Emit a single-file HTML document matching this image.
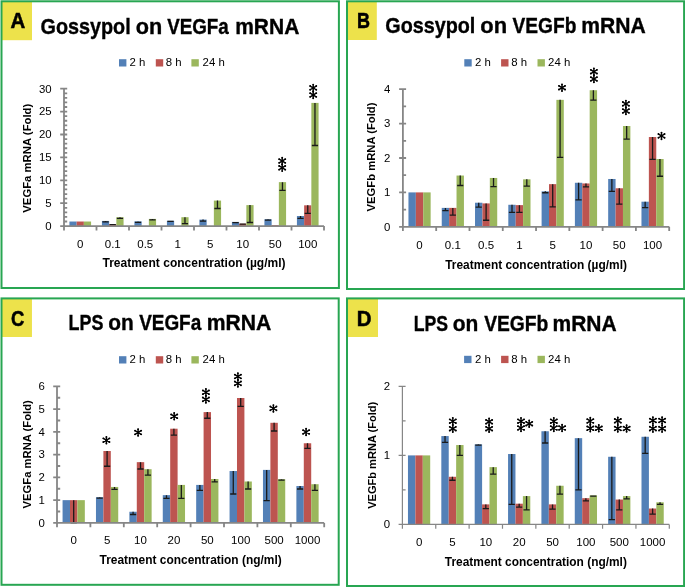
<!DOCTYPE html><html><head><meta charset="utf-8"><style>html,body{margin:0;padding:0;background:#fff;}svg{display:block;will-change:transform}</style></head><body>
<svg width="685" height="588" viewBox="0 0 685 588" font-family='"Liberation Sans", sans-serif'>
<rect width="685" height="588" fill="#fff"/>
<rect x="1.5" y="1.3" width="30.5" height="38.9" fill="#EDE24B"/>
<rect x="1.5" y="1.3" width="337.4" height="286.7" fill="none" stroke="#28A652" stroke-width="2"/>
<text transform="translate(18 28.4) scale(0.92 1)" font-size="22.2" font-weight="bold" text-anchor="middle" stroke="#000" stroke-width="0.55">A</text>
<text x="40.53" y="33.6" font-size="21.2" font-weight="bold" stroke="#000" stroke-width="0.35" textLength="90.11" lengthAdjust="spacingAndGlyphs">Gossypol</text>
<text x="135.81" y="33.6" font-size="21.2" font-weight="bold" stroke="#000" stroke-width="0.35" textLength="26.48" lengthAdjust="spacingAndGlyphs">on</text>
<text x="167.22" y="33.6" font-size="21.2" font-weight="bold" stroke="#000" stroke-width="0.35" textLength="61.58" lengthAdjust="spacingAndGlyphs">VEGFa</text>
<text x="235.22" y="33.6" font-size="21.2" font-weight="bold" stroke="#000" stroke-width="0.35" textLength="64.11" lengthAdjust="spacingAndGlyphs">mRNA</text>
<rect x="119" y="59.2" width="7.4" height="7.3" fill="#5380B7"/>
<text x="129.6" y="66.3" font-size="11.4">2 h</text>
<rect x="155.8" y="59.2" width="7.4" height="7.3" fill="#BD5450"/>
<text x="165.8" y="66.3" font-size="11.4">8 h</text>
<rect x="191.4" y="59.2" width="7.4" height="7.3" fill="#9BB75D"/>
<text x="202.6" y="66.3" font-size="11.4">24 h</text>
<rect x="69.42" y="221.52" width="7.22" height="4.58" fill="#5380B7"/>
<rect x="76.64" y="221.52" width="7.22" height="4.58" fill="#BD5450"/>
<rect x="83.86" y="221.52" width="7.22" height="4.58" fill="#9BB75D"/>
<rect x="101.92" y="220.92" width="7.22" height="5.18" fill="#5380B7"/>
<rect x="109.14" y="224.08" width="7.22" height="2.02" fill="#BD5450"/>
<rect x="116.36" y="217.21" width="7.22" height="8.89" fill="#9BB75D"/>
<rect x="134.42" y="221.38" width="7.22" height="4.72" fill="#5380B7"/>
<rect x="148.86" y="218.91" width="7.22" height="7.19" fill="#9BB75D"/>
<rect x="166.92" y="220.79" width="7.22" height="5.31" fill="#5380B7"/>
<rect x="181.36" y="217.21" width="7.22" height="8.89" fill="#9BB75D"/>
<rect x="199.42" y="219.6" width="7.22" height="6.5" fill="#5380B7"/>
<rect x="213.86" y="200.59" width="7.22" height="25.51" fill="#9BB75D"/>
<rect x="231.92" y="221.89" width="7.22" height="4.21" fill="#5380B7"/>
<rect x="239.14" y="223.72" width="7.22" height="2.38" fill="#BD5450"/>
<rect x="246.36" y="205.12" width="7.22" height="20.98" fill="#9BB75D"/>
<rect x="264.42" y="219.23" width="7.22" height="6.87" fill="#5380B7"/>
<rect x="271.64" y="225.18" width="7.22" height="0.92" fill="#BD5450"/>
<rect x="278.86" y="182.13" width="7.22" height="43.97" fill="#9BB75D"/>
<rect x="296.92" y="216.02" width="7.22" height="10.08" fill="#5380B7"/>
<rect x="304.14" y="205.31" width="7.22" height="20.79" fill="#BD5450"/>
<rect x="311.36" y="102.9" width="7.22" height="123.2" fill="#9BB75D"/>
<path d="M105.53 220.92V221.84M102.43 221.84H108.63" stroke="#1a1a1a" stroke-width="1.3" fill="none"/>
<path d="M112.75 224.08V224.54M109.65 224.54H115.85" stroke="#1a1a1a" stroke-width="1.3" fill="none"/>
<path d="M119.97 217.21V218.36M116.87 218.36H123.07" stroke="#1a1a1a" stroke-width="1.3" fill="none"/>
<path d="M138.03 221.38V222.3M134.93 222.3H141.13" stroke="#1a1a1a" stroke-width="1.3" fill="none"/>
<path d="M152.47 218.91V219.83M149.37 219.83H155.57" stroke="#1a1a1a" stroke-width="1.3" fill="none"/>
<path d="M170.53 220.79V221.47M167.43 221.47H173.63" stroke="#1a1a1a" stroke-width="1.3" fill="none"/>
<path d="M184.97 217.21V223.63M181.87 223.63H188.07" stroke="#1a1a1a" stroke-width="1.3" fill="none"/>
<path d="M203.03 219.6V221.2M199.93 221.2H206.13" stroke="#1a1a1a" stroke-width="1.3" fill="none"/>
<path d="M217.47 200.59V208.51M214.37 208.51H220.57" stroke="#1a1a1a" stroke-width="1.3" fill="none"/>
<path d="M235.53 221.89V222.57M232.43 222.57H238.63" stroke="#1a1a1a" stroke-width="1.3" fill="none"/>
<path d="M242.75 223.72V224.18M239.65 224.18H245.85" stroke="#1a1a1a" stroke-width="1.3" fill="none"/>
<path d="M249.97 205.12V222.48M246.87 222.48H253.07" stroke="#1a1a1a" stroke-width="1.3" fill="none"/>
<path d="M268.03 219.23V220.15M264.93 220.15H271.13" stroke="#1a1a1a" stroke-width="1.3" fill="none"/>
<path d="M282.47 182.13V190.38M279.37 190.38H285.57" stroke="#1a1a1a" stroke-width="1.3" fill="none"/>
<path d="M300.53 216.02V218.31M297.43 218.31H303.63" stroke="#1a1a1a" stroke-width="1.3" fill="none"/>
<path d="M307.75 205.31V213.28M304.65 213.28H310.85" stroke="#1a1a1a" stroke-width="1.3" fill="none"/>
<path d="M314.97 102.9V145.49M311.87 145.49H318.07" stroke="#1a1a1a" stroke-width="1.3" fill="none"/>
<path d="M64 88.7V226.1M60.2 226.1H324M60.2 226.1H67.2M64 221.52H67.2M64 216.94H67.2M64 212.36H67.2M64 207.78H67.2M60.2 203.2H67.2M64 198.62H67.2M64 194.04H67.2M64 189.46H67.2M64 184.88H67.2M60.2 180.3H67.2M64 175.72H67.2M64 171.14H67.2M64 166.56H67.2M64 161.98H67.2M60.2 157.4H67.2M64 152.82H67.2M64 148.24H67.2M64 143.66H67.2M64 139.08H67.2M60.2 134.5H67.2M64 129.92H67.2M64 125.34H67.2M64 120.76H67.2M64 116.18H67.2M60.2 111.6H67.2M64 107.02H67.2M64 102.44H67.2M64 97.86H67.2M64 93.28H67.2M60.2 88.7H67.2M64 226.1V230.4M96.5 226.1V230.4M129 226.1V230.4M161.5 226.1V230.4M194 226.1V230.4M226.5 226.1V230.4M259 226.1V230.4M291.5 226.1V230.4M324 226.1V230.4" stroke="#868686" stroke-width="1.8" fill="none"/>
<text x="51.6" y="229.9" font-size="11.4" text-anchor="end">0</text>
<text x="51.6" y="207" font-size="11.4" text-anchor="end">5</text>
<text x="51.6" y="184.1" font-size="11.4" text-anchor="end">10</text>
<text x="51.6" y="161.2" font-size="11.4" text-anchor="end">15</text>
<text x="51.6" y="138.3" font-size="11.4" text-anchor="end">20</text>
<text x="51.6" y="115.4" font-size="11.4" text-anchor="end">25</text>
<text x="51.6" y="92.5" font-size="11.4" text-anchor="end">30</text>
<text transform="translate(31.1 158.2) rotate(-90)" x="0" y="0" font-size="11.3" font-weight="bold" text-anchor="middle" textLength="109" lengthAdjust="spacingAndGlyphs">VEGFa mRNA (Fold)</text>
<text x="80.25" y="247.9" font-size="11.5" text-anchor="middle">0</text>
<text x="112.75" y="247.9" font-size="11.5" text-anchor="middle">0.1</text>
<text x="145.25" y="247.9" font-size="11.5" text-anchor="middle">0.5</text>
<text x="177.75" y="247.9" font-size="11.5" text-anchor="middle">1</text>
<text x="210.25" y="247.9" font-size="11.5" text-anchor="middle">5</text>
<text x="242.75" y="247.9" font-size="11.5" text-anchor="middle">10</text>
<text x="275.25" y="247.9" font-size="11.5" text-anchor="middle">50</text>
<text x="307.75" y="247.9" font-size="11.5" text-anchor="middle">100</text>
<text x="194" y="267.4" font-size="11.9" font-weight="bold" text-anchor="middle" textLength="183" lengthAdjust="spacingAndGlyphs">Treatment concentration (µg/ml)</text>
<path d="M282.2 157.7V164.3M279.15 159.15L285.25 162.85M279.15 162.85L285.25 159.15" stroke="#000" stroke-width="1.35" stroke-linecap="round" fill="none"/><circle cx="282.2" cy="157.7" r="0.95"/><circle cx="282.2" cy="164.3" r="0.95"/><circle cx="279.15" cy="159.15" r="0.95"/><circle cx="285.25" cy="162.85" r="0.95"/><circle cx="279.15" cy="162.85" r="0.95"/><circle cx="285.25" cy="159.15" r="0.95"/><circle cx="282.2" cy="161" r="1.3"/>
<path d="M282.2 164.5V171.1M279.15 165.95L285.25 169.65M279.15 169.65L285.25 165.95" stroke="#000" stroke-width="1.35" stroke-linecap="round" fill="none"/><circle cx="282.2" cy="164.5" r="0.95"/><circle cx="282.2" cy="171.1" r="0.95"/><circle cx="279.15" cy="165.95" r="0.95"/><circle cx="285.25" cy="169.65" r="0.95"/><circle cx="279.15" cy="169.65" r="0.95"/><circle cx="285.25" cy="165.95" r="0.95"/><circle cx="282.2" cy="167.8" r="1.3"/>
<path d="M313.2 84.6V91.2M310.15 86.05L316.25 89.75M310.15 89.75L316.25 86.05" stroke="#000" stroke-width="1.35" stroke-linecap="round" fill="none"/><circle cx="313.2" cy="84.6" r="0.95"/><circle cx="313.2" cy="91.2" r="0.95"/><circle cx="310.15" cy="86.05" r="0.95"/><circle cx="316.25" cy="89.75" r="0.95"/><circle cx="310.15" cy="89.75" r="0.95"/><circle cx="316.25" cy="86.05" r="0.95"/><circle cx="313.2" cy="87.9" r="1.3"/>
<path d="M313.2 91.7V98.3M310.15 93.15L316.25 96.85M310.15 96.85L316.25 93.15" stroke="#000" stroke-width="1.35" stroke-linecap="round" fill="none"/><circle cx="313.2" cy="91.7" r="0.95"/><circle cx="313.2" cy="98.3" r="0.95"/><circle cx="310.15" cy="93.15" r="0.95"/><circle cx="316.25" cy="96.85" r="0.95"/><circle cx="310.15" cy="96.85" r="0.95"/><circle cx="316.25" cy="93.15" r="0.95"/><circle cx="313.2" cy="95" r="1.3"/>
<rect x="347" y="1.3" width="29.8" height="38.7" fill="#EDE24B"/>
<rect x="347" y="1.3" width="337.1" height="287.7" fill="none" stroke="#28A652" stroke-width="2"/>
<text transform="translate(363.45 28.2) scale(0.81 1)" font-size="22.2" font-weight="bold" text-anchor="middle" stroke="#000" stroke-width="0.55">B</text>
<text x="385.33" y="33.2" font-size="21.2" font-weight="bold" stroke="#000" stroke-width="0.35" textLength="90.03" lengthAdjust="spacingAndGlyphs">Gossypol</text>
<text x="480.29" y="33.2" font-size="21.2" font-weight="bold" stroke="#000" stroke-width="0.35" textLength="26.78" lengthAdjust="spacingAndGlyphs">on</text>
<text x="512.55" y="33.2" font-size="21.2" font-weight="bold" stroke="#000" stroke-width="0.35" textLength="63.85" lengthAdjust="spacingAndGlyphs">VEGFb</text>
<text x="581.34" y="33.2" font-size="21.2" font-weight="bold" stroke="#000" stroke-width="0.35" textLength="64.5" lengthAdjust="spacingAndGlyphs">mRNA</text>
<rect x="464.3" y="59.2" width="7.4" height="7.3" fill="#5380B7"/>
<text x="475.1" y="66.4" font-size="11.4">2 h</text>
<rect x="501.1" y="59.2" width="7.4" height="7.3" fill="#BD5450"/>
<text x="511.3" y="66.4" font-size="11.4">8 h</text>
<rect x="537.5" y="59.2" width="7.4" height="7.3" fill="#9BB75D"/>
<text x="548.1" y="66.4" font-size="11.4">24 h</text>
<rect x="408.45" y="192.4" width="7.4" height="34.4" fill="#5380B7"/>
<rect x="415.85" y="192.4" width="7.4" height="34.4" fill="#BD5450"/>
<rect x="423.24" y="192.4" width="7.4" height="34.4" fill="#9BB75D"/>
<rect x="441.74" y="207.88" width="7.4" height="18.92" fill="#5380B7"/>
<rect x="449.13" y="207.88" width="7.4" height="18.92" fill="#BD5450"/>
<rect x="456.53" y="175.54" width="7.4" height="51.26" fill="#9BB75D"/>
<rect x="475.02" y="202.72" width="7.4" height="24.08" fill="#5380B7"/>
<rect x="482.42" y="203.41" width="7.4" height="23.39" fill="#BD5450"/>
<rect x="489.82" y="177.95" width="7.4" height="48.85" fill="#9BB75D"/>
<rect x="508.31" y="204.78" width="7.4" height="22.02" fill="#5380B7"/>
<rect x="515.71" y="205.13" width="7.4" height="21.67" fill="#BD5450"/>
<rect x="523.1" y="179.33" width="7.4" height="47.47" fill="#9BB75D"/>
<rect x="541.6" y="191.37" width="7.4" height="35.43" fill="#5380B7"/>
<rect x="549" y="184.14" width="7.4" height="42.66" fill="#BD5450"/>
<rect x="556.39" y="99.86" width="7.4" height="126.94" fill="#9BB75D"/>
<rect x="574.89" y="182.77" width="7.4" height="44.03" fill="#5380B7"/>
<rect x="582.28" y="183.46" width="7.4" height="43.34" fill="#BD5450"/>
<rect x="589.68" y="90.23" width="7.4" height="136.57" fill="#9BB75D"/>
<rect x="608.17" y="178.98" width="7.4" height="47.82" fill="#5380B7"/>
<rect x="615.57" y="188.27" width="7.4" height="38.53" fill="#BD5450"/>
<rect x="622.97" y="126.01" width="7.4" height="100.79" fill="#9BB75D"/>
<rect x="641.46" y="201.69" width="7.4" height="25.11" fill="#5380B7"/>
<rect x="648.86" y="137.02" width="7.4" height="89.78" fill="#BD5450"/>
<rect x="656.25" y="159.03" width="7.4" height="67.77" fill="#9BB75D"/>
<path d="M445.43 207.88V210.63M442.33 210.63H448.53" stroke="#1a1a1a" stroke-width="1.3" fill="none"/>
<path d="M452.83 207.88V215.1M449.73 215.1H455.93" stroke="#1a1a1a" stroke-width="1.3" fill="none"/>
<path d="M460.23 175.54V185.52M457.13 185.52H463.33" stroke="#1a1a1a" stroke-width="1.3" fill="none"/>
<path d="M478.72 202.72V207.19M475.62 207.19H481.82" stroke="#1a1a1a" stroke-width="1.3" fill="none"/>
<path d="M486.12 203.41V220.26M483.02 220.26H489.22" stroke="#1a1a1a" stroke-width="1.3" fill="none"/>
<path d="M493.52 177.95V186.55M490.42 186.55H496.62" stroke="#1a1a1a" stroke-width="1.3" fill="none"/>
<path d="M512.01 204.78V212.35M508.91 212.35H515.11" stroke="#1a1a1a" stroke-width="1.3" fill="none"/>
<path d="M519.41 205.13V212.35M516.31 212.35H522.51" stroke="#1a1a1a" stroke-width="1.3" fill="none"/>
<path d="M526.8 179.33V186.21M523.7 186.21H529.9" stroke="#1a1a1a" stroke-width="1.3" fill="none"/>
<path d="M545.3 191.37V192.74M542.2 192.74H548.4" stroke="#1a1a1a" stroke-width="1.3" fill="none"/>
<path d="M552.69 184.14V206.85M549.59 206.85H555.79" stroke="#1a1a1a" stroke-width="1.3" fill="none"/>
<path d="M560.09 99.86V157.31M556.99 157.31H563.19" stroke="#1a1a1a" stroke-width="1.3" fill="none"/>
<path d="M578.58 182.77V199.97M575.48 199.97H581.68" stroke="#1a1a1a" stroke-width="1.3" fill="none"/>
<path d="M585.98 183.46V186.9M582.88 186.9H589.08" stroke="#1a1a1a" stroke-width="1.3" fill="none"/>
<path d="M593.38 90.23V100.21M590.28 100.21H596.48" stroke="#1a1a1a" stroke-width="1.3" fill="none"/>
<path d="M611.87 178.98V191.37M608.77 191.37H614.97" stroke="#1a1a1a" stroke-width="1.3" fill="none"/>
<path d="M619.27 188.27V204.1M616.17 204.1H622.37" stroke="#1a1a1a" stroke-width="1.3" fill="none"/>
<path d="M626.67 126.01V139.08M623.57 139.08H629.77" stroke="#1a1a1a" stroke-width="1.3" fill="none"/>
<path d="M645.16 201.69V207.54M642.06 207.54H648.26" stroke="#1a1a1a" stroke-width="1.3" fill="none"/>
<path d="M652.56 137.02V159.38M649.46 159.38H655.66" stroke="#1a1a1a" stroke-width="1.3" fill="none"/>
<path d="M659.95 159.03V176.23M656.85 176.23H663.05" stroke="#1a1a1a" stroke-width="1.3" fill="none"/>
<path d="M402.9 89.2V226.8M399.1 226.8H669.2M399.1 226.8H406.1M402.9 209.6H406.1M399.1 192.4H406.1M402.9 175.2H406.1M399.1 158H406.1M402.9 140.8H406.1M399.1 123.6H406.1M402.9 106.4H406.1M399.1 89.2H406.1M402.9 226.8V231.1M436.19 226.8V231.1M469.48 226.8V231.1M502.76 226.8V231.1M536.05 226.8V231.1M569.34 226.8V231.1M602.62 226.8V231.1M635.91 226.8V231.1M669.2 226.8V231.1" stroke="#868686" stroke-width="1.8" fill="none"/>
<text x="390.3" y="230.6" font-size="11.4" text-anchor="end">0</text>
<text x="390.3" y="196.2" font-size="11.4" text-anchor="end">1</text>
<text x="390.3" y="161.8" font-size="11.4" text-anchor="end">2</text>
<text x="390.3" y="127.4" font-size="11.4" text-anchor="end">3</text>
<text x="390.3" y="93" font-size="11.4" text-anchor="end">4</text>
<text transform="translate(375.4 157) rotate(-90)" x="0" y="0" font-size="11.3" font-weight="bold" text-anchor="middle" textLength="109" lengthAdjust="spacingAndGlyphs">VEGFb mRNA (Fold)</text>
<text x="419.54" y="248.5" font-size="11.5" text-anchor="middle">0</text>
<text x="452.83" y="248.5" font-size="11.5" text-anchor="middle">0.1</text>
<text x="486.12" y="248.5" font-size="11.5" text-anchor="middle">0.5</text>
<text x="519.41" y="248.5" font-size="11.5" text-anchor="middle">1</text>
<text x="552.69" y="248.5" font-size="11.5" text-anchor="middle">5</text>
<text x="585.98" y="248.5" font-size="11.5" text-anchor="middle">10</text>
<text x="619.27" y="248.5" font-size="11.5" text-anchor="middle">50</text>
<text x="652.56" y="248.5" font-size="11.5" text-anchor="middle">100</text>
<text x="536.05" y="268.9" font-size="11.9" font-weight="bold" text-anchor="middle" textLength="181.8" lengthAdjust="spacingAndGlyphs">Treatment concentration (µg/ml)</text>
<path d="M562 84.4V91M558.95 85.85L565.05 89.55M558.95 89.55L565.05 85.85" stroke="#000" stroke-width="1.35" stroke-linecap="round" fill="none"/><circle cx="562" cy="84.4" r="0.95"/><circle cx="562" cy="91" r="0.95"/><circle cx="558.95" cy="85.85" r="0.95"/><circle cx="565.05" cy="89.55" r="0.95"/><circle cx="558.95" cy="89.55" r="0.95"/><circle cx="565.05" cy="85.85" r="0.95"/><circle cx="562" cy="87.7" r="1.3"/>
<path d="M593.9 68.4V75M590.85 69.85L596.95 73.55M590.85 73.55L596.95 69.85" stroke="#000" stroke-width="1.35" stroke-linecap="round" fill="none"/><circle cx="593.9" cy="68.4" r="0.95"/><circle cx="593.9" cy="75" r="0.95"/><circle cx="590.85" cy="69.85" r="0.95"/><circle cx="596.95" cy="73.55" r="0.95"/><circle cx="590.85" cy="73.55" r="0.95"/><circle cx="596.95" cy="69.85" r="0.95"/><circle cx="593.9" cy="71.7" r="1.3"/>
<path d="M593.9 75.7V82.3M590.85 77.15L596.95 80.85M590.85 80.85L596.95 77.15" stroke="#000" stroke-width="1.35" stroke-linecap="round" fill="none"/><circle cx="593.9" cy="75.7" r="0.95"/><circle cx="593.9" cy="82.3" r="0.95"/><circle cx="590.85" cy="77.15" r="0.95"/><circle cx="596.95" cy="80.85" r="0.95"/><circle cx="590.85" cy="80.85" r="0.95"/><circle cx="596.95" cy="77.15" r="0.95"/><circle cx="593.9" cy="79" r="1.3"/>
<path d="M625.9 100.6V107.2M622.85 102.05L628.95 105.75M622.85 105.75L628.95 102.05" stroke="#000" stroke-width="1.35" stroke-linecap="round" fill="none"/><circle cx="625.9" cy="100.6" r="0.95"/><circle cx="625.9" cy="107.2" r="0.95"/><circle cx="622.85" cy="102.05" r="0.95"/><circle cx="628.95" cy="105.75" r="0.95"/><circle cx="622.85" cy="105.75" r="0.95"/><circle cx="628.95" cy="102.05" r="0.95"/><circle cx="625.9" cy="103.9" r="1.3"/>
<path d="M625.9 107.7V114.3M622.85 109.15L628.95 112.85M622.85 112.85L628.95 109.15" stroke="#000" stroke-width="1.35" stroke-linecap="round" fill="none"/><circle cx="625.9" cy="107.7" r="0.95"/><circle cx="625.9" cy="114.3" r="0.95"/><circle cx="622.85" cy="109.15" r="0.95"/><circle cx="628.95" cy="112.85" r="0.95"/><circle cx="622.85" cy="112.85" r="0.95"/><circle cx="628.95" cy="109.15" r="0.95"/><circle cx="625.9" cy="111" r="1.3"/>
<path d="M661.5 132.6V139.2M658.45 134.05L664.55 137.75M658.45 137.75L664.55 134.05" stroke="#000" stroke-width="1.35" stroke-linecap="round" fill="none"/><circle cx="661.5" cy="132.6" r="0.95"/><circle cx="661.5" cy="139.2" r="0.95"/><circle cx="658.45" cy="134.05" r="0.95"/><circle cx="664.55" cy="137.75" r="0.95"/><circle cx="658.45" cy="137.75" r="0.95"/><circle cx="664.55" cy="134.05" r="0.95"/><circle cx="661.5" cy="135.9" r="1.3"/>
<rect x="1.5" y="298.4" width="30.45" height="38.6" fill="#EDE24B"/>
<rect x="1.5" y="298.4" width="337.2" height="286.4" fill="none" stroke="#28A652" stroke-width="2"/>
<text transform="translate(17.55 325.8) scale(0.83 1)" font-size="22.2" font-weight="bold" text-anchor="middle" stroke="#000" stroke-width="0.55">C</text>
<text x="68.61" y="330.4" font-size="21.2" font-weight="bold" stroke="#000" stroke-width="0.35" textLength="34.83" lengthAdjust="spacingAndGlyphs">LPS</text>
<text x="108.22" y="330.4" font-size="21.2" font-weight="bold" stroke="#000" stroke-width="0.35" textLength="25.52" lengthAdjust="spacingAndGlyphs">on</text>
<text x="139.13" y="330.4" font-size="21.2" font-weight="bold" stroke="#000" stroke-width="0.35" textLength="62.11" lengthAdjust="spacingAndGlyphs">VEGFa</text>
<text x="206.8" y="330.4" font-size="21.2" font-weight="bold" stroke="#000" stroke-width="0.35" textLength="64.58" lengthAdjust="spacingAndGlyphs">mRNA</text>
<rect x="119" y="356.2" width="7.4" height="7.3" fill="#5380B7"/>
<text x="129.6" y="363.4" font-size="11.4">2 h</text>
<rect x="155.8" y="356.2" width="7.4" height="7.3" fill="#BD5450"/>
<text x="165.8" y="363.4" font-size="11.4">8 h</text>
<rect x="191.4" y="356.2" width="7.4" height="7.3" fill="#9BB75D"/>
<text x="202.6" y="363.4" font-size="11.4">24 h</text>
<rect x="62.57" y="500.15" width="7.42" height="22.75" fill="#5380B7"/>
<rect x="69.99" y="500.15" width="7.42" height="22.75" fill="#BD5450"/>
<rect x="77.41" y="500.15" width="7.42" height="22.75" fill="#9BB75D"/>
<rect x="95.97" y="497.19" width="7.42" height="25.71" fill="#5380B7"/>
<rect x="103.39" y="451.01" width="7.42" height="71.89" fill="#BD5450"/>
<rect x="110.81" y="486.95" width="7.42" height="35.94" fill="#9BB75D"/>
<rect x="129.37" y="511.75" width="7.42" height="11.15" fill="#5380B7"/>
<rect x="136.79" y="462.16" width="7.42" height="60.74" fill="#BD5450"/>
<rect x="144.21" y="469.21" width="7.42" height="53.69" fill="#9BB75D"/>
<rect x="162.77" y="495.14" width="7.42" height="27.75" fill="#5380B7"/>
<rect x="170.19" y="428.71" width="7.42" height="94.19" fill="#BD5450"/>
<rect x="177.61" y="484.91" width="7.42" height="37.99" fill="#9BB75D"/>
<rect x="196.17" y="484.91" width="7.42" height="37.99" fill="#5380B7"/>
<rect x="203.59" y="412.11" width="7.42" height="110.79" fill="#BD5450"/>
<rect x="211.01" y="478.99" width="7.42" height="43.91" fill="#9BB75D"/>
<rect x="229.57" y="471.03" width="7.42" height="51.87" fill="#5380B7"/>
<rect x="236.99" y="398" width="7.42" height="124.9" fill="#BD5450"/>
<rect x="244.41" y="481.5" width="7.42" height="41.4" fill="#9BB75D"/>
<rect x="262.97" y="469.89" width="7.42" height="53.01" fill="#5380B7"/>
<rect x="270.39" y="422.8" width="7.42" height="100.1" fill="#BD5450"/>
<rect x="277.81" y="479.22" width="7.42" height="43.68" fill="#9BB75D"/>
<rect x="296.37" y="486.04" width="7.42" height="36.86" fill="#5380B7"/>
<rect x="303.79" y="443.27" width="7.42" height="79.62" fill="#BD5450"/>
<rect x="311.21" y="484.22" width="7.42" height="38.68" fill="#9BB75D"/>
<path d="M73.7 500.15V522.9M70.6 522.9H76.8" stroke="#1a1a1a" stroke-width="1.3" fill="none"/>
<path d="M99.68 497.19V498.1M96.58 498.1H102.78" stroke="#1a1a1a" stroke-width="1.3" fill="none"/>
<path d="M107.1 451.01V466.25M104 466.25H110.2" stroke="#1a1a1a" stroke-width="1.3" fill="none"/>
<path d="M114.52 486.95V489.46M111.42 489.46H117.62" stroke="#1a1a1a" stroke-width="1.3" fill="none"/>
<path d="M133.08 511.75V514.48M129.98 514.48H136.18" stroke="#1a1a1a" stroke-width="1.3" fill="none"/>
<path d="M140.5 462.16V468.98M137.4 468.98H143.6" stroke="#1a1a1a" stroke-width="1.3" fill="none"/>
<path d="M147.92 469.21V475.12M144.82 475.12H151.02" stroke="#1a1a1a" stroke-width="1.3" fill="none"/>
<path d="M166.48 495.14V498.33M163.38 498.33H169.58" stroke="#1a1a1a" stroke-width="1.3" fill="none"/>
<path d="M173.9 428.71V435.08M170.8 435.08H177" stroke="#1a1a1a" stroke-width="1.3" fill="none"/>
<path d="M181.32 484.91V498.33M178.22 498.33H184.42" stroke="#1a1a1a" stroke-width="1.3" fill="none"/>
<path d="M199.88 484.91V490.37M196.78 490.37H202.98" stroke="#1a1a1a" stroke-width="1.3" fill="none"/>
<path d="M207.3 412.11V418.25M204.2 418.25H210.4" stroke="#1a1a1a" stroke-width="1.3" fill="none"/>
<path d="M214.72 478.99V481.95M211.62 481.95H217.82" stroke="#1a1a1a" stroke-width="1.3" fill="none"/>
<path d="M233.28 471.03V494.01M230.18 494.01H236.38" stroke="#1a1a1a" stroke-width="1.3" fill="none"/>
<path d="M240.7 398V406.42M237.6 406.42H243.8" stroke="#1a1a1a" stroke-width="1.3" fill="none"/>
<path d="M248.12 481.5V489M245.02 489H251.22" stroke="#1a1a1a" stroke-width="1.3" fill="none"/>
<path d="M266.68 469.89V500.6M263.58 500.6H269.78" stroke="#1a1a1a" stroke-width="1.3" fill="none"/>
<path d="M274.1 422.8V430.99M271 430.99H277.2" stroke="#1a1a1a" stroke-width="1.3" fill="none"/>
<path d="M281.52 479.22V480.13M278.42 480.13H284.62" stroke="#1a1a1a" stroke-width="1.3" fill="none"/>
<path d="M300.08 486.04V489M296.98 489H303.18" stroke="#1a1a1a" stroke-width="1.3" fill="none"/>
<path d="M307.5 443.27V448.28M304.4 448.28H310.6" stroke="#1a1a1a" stroke-width="1.3" fill="none"/>
<path d="M314.92 484.22V490.37M311.82 490.37H318.02" stroke="#1a1a1a" stroke-width="1.3" fill="none"/>
<path d="M57 386.4V522.9M53.2 522.9H324.2M53.2 522.9H60.2M57 511.52H60.2M53.2 500.15H60.2M57 488.77H60.2M53.2 477.4H60.2M57 466.02H60.2M53.2 454.65H60.2M57 443.27H60.2M53.2 431.9H60.2M57 420.52H60.2M53.2 409.15H60.2M57 397.77H60.2M53.2 386.4H60.2M57 522.9V527.2M90.4 522.9V527.2M123.8 522.9V527.2M157.2 522.9V527.2M190.6 522.9V527.2M224 522.9V527.2M257.4 522.9V527.2M290.8 522.9V527.2M324.2 522.9V527.2" stroke="#868686" stroke-width="1.8" fill="none"/>
<text x="44.9" y="526.7" font-size="11.4" text-anchor="end">0</text>
<text x="44.9" y="503.95" font-size="11.4" text-anchor="end">1</text>
<text x="44.9" y="481.2" font-size="11.4" text-anchor="end">2</text>
<text x="44.9" y="458.45" font-size="11.4" text-anchor="end">3</text>
<text x="44.9" y="435.7" font-size="11.4" text-anchor="end">4</text>
<text x="44.9" y="412.95" font-size="11.4" text-anchor="end">5</text>
<text x="44.9" y="390.2" font-size="11.4" text-anchor="end">6</text>
<text transform="translate(31.1 454.3) rotate(-90)" x="0" y="0" font-size="11.3" font-weight="bold" text-anchor="middle" textLength="108.2" lengthAdjust="spacingAndGlyphs">VEGFa mRNA (Fold)</text>
<text x="73.7" y="544.4" font-size="11.5" text-anchor="middle">0</text>
<text x="107.1" y="544.4" font-size="11.5" text-anchor="middle">5</text>
<text x="140.5" y="544.4" font-size="11.5" text-anchor="middle">10</text>
<text x="173.9" y="544.4" font-size="11.5" text-anchor="middle">20</text>
<text x="207.3" y="544.4" font-size="11.5" text-anchor="middle">50</text>
<text x="240.7" y="544.4" font-size="11.5" text-anchor="middle">100</text>
<text x="274.1" y="544.4" font-size="11.5" text-anchor="middle">500</text>
<text x="307.5" y="544.4" font-size="11.5" text-anchor="middle">1000</text>
<text x="190.6" y="564.2" font-size="11.9" font-weight="bold" text-anchor="middle" textLength="182.2" lengthAdjust="spacingAndGlyphs">Treatment concentration (ng/ml)</text>
<path d="M106.4 436.9V443.5M103.35 438.35L109.45 442.05M103.35 442.05L109.45 438.35" stroke="#000" stroke-width="1.35" stroke-linecap="round" fill="none"/><circle cx="106.4" cy="436.9" r="0.95"/><circle cx="106.4" cy="443.5" r="0.95"/><circle cx="103.35" cy="438.35" r="0.95"/><circle cx="109.45" cy="442.05" r="0.95"/><circle cx="103.35" cy="442.05" r="0.95"/><circle cx="109.45" cy="438.35" r="0.95"/><circle cx="106.4" cy="440.2" r="1.3"/>
<path d="M138.1 429.2V435.8M135.05 430.65L141.15 434.35M135.05 434.35L141.15 430.65" stroke="#000" stroke-width="1.35" stroke-linecap="round" fill="none"/><circle cx="138.1" cy="429.2" r="0.95"/><circle cx="138.1" cy="435.8" r="0.95"/><circle cx="135.05" cy="430.65" r="0.95"/><circle cx="141.15" cy="434.35" r="0.95"/><circle cx="135.05" cy="434.35" r="0.95"/><circle cx="141.15" cy="430.65" r="0.95"/><circle cx="138.1" cy="432.5" r="1.3"/>
<path d="M174.2 413V419.6M171.15 414.45L177.25 418.15M171.15 418.15L177.25 414.45" stroke="#000" stroke-width="1.35" stroke-linecap="round" fill="none"/><circle cx="174.2" cy="413" r="0.95"/><circle cx="174.2" cy="419.6" r="0.95"/><circle cx="171.15" cy="414.45" r="0.95"/><circle cx="177.25" cy="418.15" r="0.95"/><circle cx="171.15" cy="418.15" r="0.95"/><circle cx="177.25" cy="414.45" r="0.95"/><circle cx="174.2" cy="416.3" r="1.3"/>
<path d="M205.9 389V395.6M202.85 390.45L208.95 394.15M202.85 394.15L208.95 390.45" stroke="#000" stroke-width="1.35" stroke-linecap="round" fill="none"/><circle cx="205.9" cy="389" r="0.95"/><circle cx="205.9" cy="395.6" r="0.95"/><circle cx="202.85" cy="390.45" r="0.95"/><circle cx="208.95" cy="394.15" r="0.95"/><circle cx="202.85" cy="394.15" r="0.95"/><circle cx="208.95" cy="390.45" r="0.95"/><circle cx="205.9" cy="392.3" r="1.3"/>
<path d="M205.9 396.1V402.7M202.85 397.55L208.95 401.25M202.85 401.25L208.95 397.55" stroke="#000" stroke-width="1.35" stroke-linecap="round" fill="none"/><circle cx="205.9" cy="396.1" r="0.95"/><circle cx="205.9" cy="402.7" r="0.95"/><circle cx="202.85" cy="397.55" r="0.95"/><circle cx="208.95" cy="401.25" r="0.95"/><circle cx="202.85" cy="401.25" r="0.95"/><circle cx="208.95" cy="397.55" r="0.95"/><circle cx="205.9" cy="399.4" r="1.3"/>
<path d="M237.9 373.2V379.8M234.85 374.65L240.95 378.35M234.85 378.35L240.95 374.65" stroke="#000" stroke-width="1.35" stroke-linecap="round" fill="none"/><circle cx="237.9" cy="373.2" r="0.95"/><circle cx="237.9" cy="379.8" r="0.95"/><circle cx="234.85" cy="374.65" r="0.95"/><circle cx="240.95" cy="378.35" r="0.95"/><circle cx="234.85" cy="378.35" r="0.95"/><circle cx="240.95" cy="374.65" r="0.95"/><circle cx="237.9" cy="376.5" r="1.3"/>
<path d="M237.9 380.1V386.7M234.85 381.55L240.95 385.25M234.85 385.25L240.95 381.55" stroke="#000" stroke-width="1.35" stroke-linecap="round" fill="none"/><circle cx="237.9" cy="380.1" r="0.95"/><circle cx="237.9" cy="386.7" r="0.95"/><circle cx="234.85" cy="381.55" r="0.95"/><circle cx="240.95" cy="385.25" r="0.95"/><circle cx="234.85" cy="385.25" r="0.95"/><circle cx="240.95" cy="381.55" r="0.95"/><circle cx="237.9" cy="383.4" r="1.3"/>
<path d="M273.4 405.1V411.7M270.35 406.55L276.45 410.25M270.35 410.25L276.45 406.55" stroke="#000" stroke-width="1.35" stroke-linecap="round" fill="none"/><circle cx="273.4" cy="405.1" r="0.95"/><circle cx="273.4" cy="411.7" r="0.95"/><circle cx="270.35" cy="406.55" r="0.95"/><circle cx="276.45" cy="410.25" r="0.95"/><circle cx="270.35" cy="410.25" r="0.95"/><circle cx="276.45" cy="406.55" r="0.95"/><circle cx="273.4" cy="408.4" r="1.3"/>
<path d="M306.1 428.7V435.3M303.05 430.15L309.15 433.85M303.05 433.85L309.15 430.15" stroke="#000" stroke-width="1.35" stroke-linecap="round" fill="none"/><circle cx="306.1" cy="428.7" r="0.95"/><circle cx="306.1" cy="435.3" r="0.95"/><circle cx="303.05" cy="430.15" r="0.95"/><circle cx="309.15" cy="433.85" r="0.95"/><circle cx="303.05" cy="433.85" r="0.95"/><circle cx="309.15" cy="430.15" r="0.95"/><circle cx="306.1" cy="432" r="1.3"/>
<rect x="347" y="298.4" width="31" height="38.6" fill="#EDE24B"/>
<rect x="347" y="298.4" width="337.1" height="287.6" fill="none" stroke="#28A652" stroke-width="2"/>
<text transform="translate(364.25 325.5) scale(0.92 1)" font-size="22.2" font-weight="bold" text-anchor="middle" stroke="#000" stroke-width="0.55">D</text>
<text x="413.64" y="330.7" font-size="21.2" font-weight="bold" stroke="#000" stroke-width="0.35" textLength="34.32" lengthAdjust="spacingAndGlyphs">LPS</text>
<text x="452.72" y="330.7" font-size="21.2" font-weight="bold" stroke="#000" stroke-width="0.35" textLength="25.6" lengthAdjust="spacingAndGlyphs">on</text>
<text x="484.13" y="330.7" font-size="21.2" font-weight="bold" stroke="#000" stroke-width="0.35" textLength="64.21" lengthAdjust="spacingAndGlyphs">VEGFb</text>
<text x="552.54" y="330.7" font-size="21.2" font-weight="bold" stroke="#000" stroke-width="0.35" textLength="64.11" lengthAdjust="spacingAndGlyphs">mRNA</text>
<rect x="464.1" y="355.8" width="7.4" height="7.3" fill="#5380B7"/>
<text x="475.1" y="363.4" font-size="11.4">2 h</text>
<rect x="501.1" y="355.8" width="7.4" height="7.3" fill="#BD5450"/>
<text x="511.3" y="363.4" font-size="11.4">8 h</text>
<rect x="537.5" y="355.8" width="7.4" height="7.3" fill="#9BB75D"/>
<text x="548.1" y="363.4" font-size="11.4">24 h</text>
<rect x="407.96" y="455.4" width="7.41" height="69" fill="#5380B7"/>
<rect x="415.37" y="455.4" width="7.41" height="69" fill="#BD5450"/>
<rect x="422.79" y="455.4" width="7.41" height="69" fill="#9BB75D"/>
<rect x="441.32" y="436.08" width="7.41" height="88.32" fill="#5380B7"/>
<rect x="448.74" y="476.79" width="7.41" height="47.61" fill="#BD5450"/>
<rect x="456.15" y="445.05" width="7.41" height="79.35" fill="#9BB75D"/>
<rect x="474.69" y="444.36" width="7.41" height="80.04" fill="#5380B7"/>
<rect x="482.1" y="504.39" width="7.41" height="20.01" fill="#BD5450"/>
<rect x="489.51" y="467.13" width="7.41" height="57.27" fill="#9BB75D"/>
<rect x="508.05" y="454.02" width="7.41" height="70.38" fill="#5380B7"/>
<rect x="515.46" y="503.7" width="7.41" height="20.7" fill="#BD5450"/>
<rect x="522.88" y="496.11" width="7.41" height="28.29" fill="#9BB75D"/>
<rect x="541.41" y="431.25" width="7.41" height="93.15" fill="#5380B7"/>
<rect x="548.82" y="504.39" width="7.41" height="20.01" fill="#BD5450"/>
<rect x="556.24" y="485.76" width="7.41" height="38.64" fill="#9BB75D"/>
<rect x="574.77" y="438.15" width="7.41" height="86.25" fill="#5380B7"/>
<rect x="582.19" y="498.18" width="7.41" height="26.22" fill="#BD5450"/>
<rect x="589.6" y="495.42" width="7.41" height="28.98" fill="#9BB75D"/>
<rect x="608.14" y="456.78" width="7.41" height="67.62" fill="#5380B7"/>
<rect x="615.55" y="499.56" width="7.41" height="24.84" fill="#BD5450"/>
<rect x="622.96" y="496.11" width="7.41" height="28.29" fill="#9BB75D"/>
<rect x="641.5" y="436.77" width="7.41" height="87.63" fill="#5380B7"/>
<rect x="648.91" y="508.53" width="7.41" height="15.87" fill="#BD5450"/>
<rect x="656.33" y="502.32" width="7.41" height="22.08" fill="#9BB75D"/>
<path d="M445.03 436.08V442.29M441.93 442.29H448.13" stroke="#1a1a1a" stroke-width="1.3" fill="none"/>
<path d="M452.44 476.79V480.24M449.34 480.24H455.54" stroke="#1a1a1a" stroke-width="1.3" fill="none"/>
<path d="M459.86 445.05V455.4M456.76 455.4H462.96" stroke="#1a1a1a" stroke-width="1.3" fill="none"/>
<path d="M478.39 444.36V445.05M475.29 445.05H481.49" stroke="#1a1a1a" stroke-width="1.3" fill="none"/>
<path d="M485.81 504.39V508.53M482.71 508.53H488.91" stroke="#1a1a1a" stroke-width="1.3" fill="none"/>
<path d="M493.22 467.13V474.03M490.12 474.03H496.32" stroke="#1a1a1a" stroke-width="1.3" fill="none"/>
<path d="M511.75 454.02V504.39M508.65 504.39H514.85" stroke="#1a1a1a" stroke-width="1.3" fill="none"/>
<path d="M519.17 503.7V507.15M516.07 507.15H522.27" stroke="#1a1a1a" stroke-width="1.3" fill="none"/>
<path d="M526.58 496.11V509.91M523.48 509.91H529.68" stroke="#1a1a1a" stroke-width="1.3" fill="none"/>
<path d="M545.12 431.25V442.98M542.02 442.98H548.22" stroke="#1a1a1a" stroke-width="1.3" fill="none"/>
<path d="M552.53 504.39V509.22M549.43 509.22H555.63" stroke="#1a1a1a" stroke-width="1.3" fill="none"/>
<path d="M559.95 485.76V494.04M556.85 494.04H563.05" stroke="#1a1a1a" stroke-width="1.3" fill="none"/>
<path d="M578.48 438.15V489.9M575.38 489.9H581.58" stroke="#1a1a1a" stroke-width="1.3" fill="none"/>
<path d="M585.89 498.18V500.94M582.79 500.94H588.99" stroke="#1a1a1a" stroke-width="1.3" fill="none"/>
<path d="M593.31 495.42V496.11M590.21 496.11H596.41" stroke="#1a1a1a" stroke-width="1.3" fill="none"/>
<path d="M611.84 456.78V519.57M608.74 519.57H614.94" stroke="#1a1a1a" stroke-width="1.3" fill="none"/>
<path d="M619.26 499.56V509.91M616.16 509.91H622.36" stroke="#1a1a1a" stroke-width="1.3" fill="none"/>
<path d="M626.67 496.11V498.87M623.57 498.87H629.77" stroke="#1a1a1a" stroke-width="1.3" fill="none"/>
<path d="M645.2 436.77V453.33M642.1 453.33H648.3" stroke="#1a1a1a" stroke-width="1.3" fill="none"/>
<path d="M652.62 508.53V514.05M649.52 514.05H655.72" stroke="#1a1a1a" stroke-width="1.3" fill="none"/>
<path d="M660.03 502.32V504.39M656.93 504.39H663.13" stroke="#1a1a1a" stroke-width="1.3" fill="none"/>
<path d="M402.4 386.4V524.4M398.6 524.4H669.3M398.6 524.4H405.6M402.4 489.9H405.6M398.6 455.4H405.6M402.4 420.9H405.6M398.6 386.4H405.6M402.4 524.4V528.7M435.76 524.4V528.7M469.12 524.4V528.7M502.49 524.4V528.7M535.85 524.4V528.7M569.21 524.4V528.7M602.57 524.4V528.7M635.94 524.4V528.7M669.3 524.4V528.7" stroke="#868686" stroke-width="1.2" fill="none"/>
<text x="390.1" y="528.2" font-size="11.4" text-anchor="end">0</text>
<text x="390.1" y="459.2" font-size="11.4" text-anchor="end">1</text>
<text x="390.1" y="390.2" font-size="11.4" text-anchor="end">2</text>
<text transform="translate(375.7 455.3) rotate(-90)" x="0" y="0" font-size="11.3" font-weight="bold" text-anchor="middle" textLength="107.1" lengthAdjust="spacingAndGlyphs">VEGFb mRNA (Fold)</text>
<text x="419.08" y="546.1" font-size="11.5" text-anchor="middle">0</text>
<text x="452.44" y="546.1" font-size="11.5" text-anchor="middle">5</text>
<text x="485.81" y="546.1" font-size="11.5" text-anchor="middle">10</text>
<text x="519.17" y="546.1" font-size="11.5" text-anchor="middle">20</text>
<text x="552.53" y="546.1" font-size="11.5" text-anchor="middle">50</text>
<text x="585.89" y="546.1" font-size="11.5" text-anchor="middle">100</text>
<text x="619.26" y="546.1" font-size="11.5" text-anchor="middle">500</text>
<text x="652.62" y="546.1" font-size="11.5" text-anchor="middle">1000</text>
<text x="535.85" y="565.7" font-size="11.9" font-weight="bold" text-anchor="middle" textLength="182.1" lengthAdjust="spacingAndGlyphs">Treatment concentration (ng/ml)</text>
<path d="M452.8 417.9V424.5M449.75 419.35L455.85 423.05M449.75 423.05L455.85 419.35" stroke="#000" stroke-width="1.35" stroke-linecap="round" fill="none"/><circle cx="452.8" cy="417.9" r="0.95"/><circle cx="452.8" cy="424.5" r="0.95"/><circle cx="449.75" cy="419.35" r="0.95"/><circle cx="455.85" cy="423.05" r="0.95"/><circle cx="449.75" cy="423.05" r="0.95"/><circle cx="455.85" cy="419.35" r="0.95"/><circle cx="452.8" cy="421.2" r="1.3"/>
<path d="M452.8 425.4V432M449.75 426.85L455.85 430.55M449.75 430.55L455.85 426.85" stroke="#000" stroke-width="1.35" stroke-linecap="round" fill="none"/><circle cx="452.8" cy="425.4" r="0.95"/><circle cx="452.8" cy="432" r="0.95"/><circle cx="449.75" cy="426.85" r="0.95"/><circle cx="455.85" cy="430.55" r="0.95"/><circle cx="449.75" cy="430.55" r="0.95"/><circle cx="455.85" cy="426.85" r="0.95"/><circle cx="452.8" cy="428.7" r="1.3"/>
<path d="M489.1 418.5V425.1M486.05 419.95L492.15 423.65M486.05 423.65L492.15 419.95" stroke="#000" stroke-width="1.35" stroke-linecap="round" fill="none"/><circle cx="489.1" cy="418.5" r="0.95"/><circle cx="489.1" cy="425.1" r="0.95"/><circle cx="486.05" cy="419.95" r="0.95"/><circle cx="492.15" cy="423.65" r="0.95"/><circle cx="486.05" cy="423.65" r="0.95"/><circle cx="492.15" cy="419.95" r="0.95"/><circle cx="489.1" cy="421.8" r="1.3"/>
<path d="M489.1 425.4V432M486.05 426.85L492.15 430.55M486.05 430.55L492.15 426.85" stroke="#000" stroke-width="1.35" stroke-linecap="round" fill="none"/><circle cx="489.1" cy="425.4" r="0.95"/><circle cx="489.1" cy="432" r="0.95"/><circle cx="486.05" cy="426.85" r="0.95"/><circle cx="492.15" cy="430.55" r="0.95"/><circle cx="486.05" cy="430.55" r="0.95"/><circle cx="492.15" cy="426.85" r="0.95"/><circle cx="489.1" cy="428.7" r="1.3"/>
<path d="M521 417.9V424.5M517.95 419.35L524.05 423.05M517.95 423.05L524.05 419.35" stroke="#000" stroke-width="1.35" stroke-linecap="round" fill="none"/><circle cx="521" cy="417.9" r="0.95"/><circle cx="521" cy="424.5" r="0.95"/><circle cx="517.95" cy="419.35" r="0.95"/><circle cx="524.05" cy="423.05" r="0.95"/><circle cx="517.95" cy="423.05" r="0.95"/><circle cx="524.05" cy="419.35" r="0.95"/><circle cx="521" cy="421.2" r="1.3"/>
<path d="M521 424.7V431.3M517.95 426.15L524.05 429.85M517.95 429.85L524.05 426.15" stroke="#000" stroke-width="1.35" stroke-linecap="round" fill="none"/><circle cx="521" cy="424.7" r="0.95"/><circle cx="521" cy="431.3" r="0.95"/><circle cx="517.95" cy="426.15" r="0.95"/><circle cx="524.05" cy="429.85" r="0.95"/><circle cx="517.95" cy="429.85" r="0.95"/><circle cx="524.05" cy="426.15" r="0.95"/><circle cx="521" cy="428" r="1.3"/>
<path d="M529.2 420.4V427M526.15 421.85L532.25 425.55M526.15 425.55L532.25 421.85" stroke="#000" stroke-width="1.35" stroke-linecap="round" fill="none"/><circle cx="529.2" cy="420.4" r="0.95"/><circle cx="529.2" cy="427" r="0.95"/><circle cx="526.15" cy="421.85" r="0.95"/><circle cx="532.25" cy="425.55" r="0.95"/><circle cx="526.15" cy="425.55" r="0.95"/><circle cx="532.25" cy="421.85" r="0.95"/><circle cx="529.2" cy="423.7" r="1.3"/>
<path d="M553.8 417.9V424.5M550.75 419.35L556.85 423.05M550.75 423.05L556.85 419.35" stroke="#000" stroke-width="1.35" stroke-linecap="round" fill="none"/><circle cx="553.8" cy="417.9" r="0.95"/><circle cx="553.8" cy="424.5" r="0.95"/><circle cx="550.75" cy="419.35" r="0.95"/><circle cx="556.85" cy="423.05" r="0.95"/><circle cx="550.75" cy="423.05" r="0.95"/><circle cx="556.85" cy="419.35" r="0.95"/><circle cx="553.8" cy="421.2" r="1.3"/>
<path d="M553.8 424.7V431.3M550.75 426.15L556.85 429.85M550.75 429.85L556.85 426.15" stroke="#000" stroke-width="1.35" stroke-linecap="round" fill="none"/><circle cx="553.8" cy="424.7" r="0.95"/><circle cx="553.8" cy="431.3" r="0.95"/><circle cx="550.75" cy="426.15" r="0.95"/><circle cx="556.85" cy="429.85" r="0.95"/><circle cx="550.75" cy="429.85" r="0.95"/><circle cx="556.85" cy="426.15" r="0.95"/><circle cx="553.8" cy="428" r="1.3"/>
<path d="M562.1 424.7V431.3M559.05 426.15L565.15 429.85M559.05 429.85L565.15 426.15" stroke="#000" stroke-width="1.35" stroke-linecap="round" fill="none"/><circle cx="562.1" cy="424.7" r="0.95"/><circle cx="562.1" cy="431.3" r="0.95"/><circle cx="559.05" cy="426.15" r="0.95"/><circle cx="565.15" cy="429.85" r="0.95"/><circle cx="559.05" cy="429.85" r="0.95"/><circle cx="565.15" cy="426.15" r="0.95"/><circle cx="562.1" cy="428" r="1.3"/>
<path d="M590.3 417.7V424.3M587.25 419.15L593.35 422.85M587.25 422.85L593.35 419.15" stroke="#000" stroke-width="1.35" stroke-linecap="round" fill="none"/><circle cx="590.3" cy="417.7" r="0.95"/><circle cx="590.3" cy="424.3" r="0.95"/><circle cx="587.25" cy="419.15" r="0.95"/><circle cx="593.35" cy="422.85" r="0.95"/><circle cx="587.25" cy="422.85" r="0.95"/><circle cx="593.35" cy="419.15" r="0.95"/><circle cx="590.3" cy="421" r="1.3"/>
<path d="M590.3 425V431.6M587.25 426.45L593.35 430.15M587.25 430.15L593.35 426.45" stroke="#000" stroke-width="1.35" stroke-linecap="round" fill="none"/><circle cx="590.3" cy="425" r="0.95"/><circle cx="590.3" cy="431.6" r="0.95"/><circle cx="587.25" cy="426.45" r="0.95"/><circle cx="593.35" cy="430.15" r="0.95"/><circle cx="587.25" cy="430.15" r="0.95"/><circle cx="593.35" cy="426.45" r="0.95"/><circle cx="590.3" cy="428.3" r="1.3"/>
<path d="M598.8 425V431.6M595.75 426.45L601.85 430.15M595.75 430.15L601.85 426.45" stroke="#000" stroke-width="1.35" stroke-linecap="round" fill="none"/><circle cx="598.8" cy="425" r="0.95"/><circle cx="598.8" cy="431.6" r="0.95"/><circle cx="595.75" cy="426.45" r="0.95"/><circle cx="601.85" cy="430.15" r="0.95"/><circle cx="595.75" cy="430.15" r="0.95"/><circle cx="601.85" cy="426.45" r="0.95"/><circle cx="598.8" cy="428.3" r="1.3"/>
<path d="M617.8 417.5V424.1M614.75 418.95L620.85 422.65M614.75 422.65L620.85 418.95" stroke="#000" stroke-width="1.35" stroke-linecap="round" fill="none"/><circle cx="617.8" cy="417.5" r="0.95"/><circle cx="617.8" cy="424.1" r="0.95"/><circle cx="614.75" cy="418.95" r="0.95"/><circle cx="620.85" cy="422.65" r="0.95"/><circle cx="614.75" cy="422.65" r="0.95"/><circle cx="620.85" cy="418.95" r="0.95"/><circle cx="617.8" cy="420.8" r="1.3"/>
<path d="M617.8 425.2V431.8M614.75 426.65L620.85 430.35M614.75 430.35L620.85 426.65" stroke="#000" stroke-width="1.35" stroke-linecap="round" fill="none"/><circle cx="617.8" cy="425.2" r="0.95"/><circle cx="617.8" cy="431.8" r="0.95"/><circle cx="614.75" cy="426.65" r="0.95"/><circle cx="620.85" cy="430.35" r="0.95"/><circle cx="614.75" cy="430.35" r="0.95"/><circle cx="620.85" cy="426.65" r="0.95"/><circle cx="617.8" cy="428.5" r="1.3"/>
<path d="M626.6 425.2V431.8M623.55 426.65L629.65 430.35M623.55 430.35L629.65 426.65" stroke="#000" stroke-width="1.35" stroke-linecap="round" fill="none"/><circle cx="626.6" cy="425.2" r="0.95"/><circle cx="626.6" cy="431.8" r="0.95"/><circle cx="623.55" cy="426.65" r="0.95"/><circle cx="629.65" cy="430.35" r="0.95"/><circle cx="623.55" cy="430.35" r="0.95"/><circle cx="629.65" cy="426.65" r="0.95"/><circle cx="626.6" cy="428.5" r="1.3"/>
<path d="M652.9 417.2V423.8M649.85 418.65L655.95 422.35M649.85 422.35L655.95 418.65" stroke="#000" stroke-width="1.35" stroke-linecap="round" fill="none"/><circle cx="652.9" cy="417.2" r="0.95"/><circle cx="652.9" cy="423.8" r="0.95"/><circle cx="649.85" cy="418.65" r="0.95"/><circle cx="655.95" cy="422.35" r="0.95"/><circle cx="649.85" cy="422.35" r="0.95"/><circle cx="655.95" cy="418.65" r="0.95"/><circle cx="652.9" cy="420.5" r="1.3"/>
<path d="M662.1 417.2V423.8M659.05 418.65L665.15 422.35M659.05 422.35L665.15 418.65" stroke="#000" stroke-width="1.35" stroke-linecap="round" fill="none"/><circle cx="662.1" cy="417.2" r="0.95"/><circle cx="662.1" cy="423.8" r="0.95"/><circle cx="659.05" cy="418.65" r="0.95"/><circle cx="665.15" cy="422.35" r="0.95"/><circle cx="659.05" cy="422.35" r="0.95"/><circle cx="665.15" cy="418.65" r="0.95"/><circle cx="662.1" cy="420.5" r="1.3"/>
<path d="M652.9 425.3V431.9M649.85 426.75L655.95 430.45M649.85 430.45L655.95 426.75" stroke="#000" stroke-width="1.35" stroke-linecap="round" fill="none"/><circle cx="652.9" cy="425.3" r="0.95"/><circle cx="652.9" cy="431.9" r="0.95"/><circle cx="649.85" cy="426.75" r="0.95"/><circle cx="655.95" cy="430.45" r="0.95"/><circle cx="649.85" cy="430.45" r="0.95"/><circle cx="655.95" cy="426.75" r="0.95"/><circle cx="652.9" cy="428.6" r="1.3"/>
<path d="M662.1 425.3V431.9M659.05 426.75L665.15 430.45M659.05 430.45L665.15 426.75" stroke="#000" stroke-width="1.35" stroke-linecap="round" fill="none"/><circle cx="662.1" cy="425.3" r="0.95"/><circle cx="662.1" cy="431.9" r="0.95"/><circle cx="659.05" cy="426.75" r="0.95"/><circle cx="665.15" cy="430.45" r="0.95"/><circle cx="659.05" cy="430.45" r="0.95"/><circle cx="665.15" cy="426.75" r="0.95"/><circle cx="662.1" cy="428.6" r="1.3"/>
</svg></body></html>
